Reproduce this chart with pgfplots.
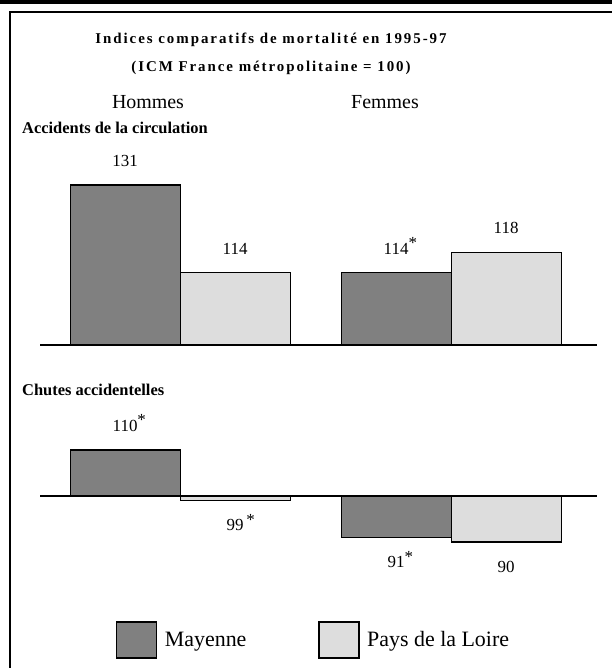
\documentclass[border=0pt]{standalone}
\usepackage{fontspec}
\setmainfont{Liberation Serif}
\usepackage{pgfplots}
\pgfplotsset{compat=1.18}
\definecolor{dark}{HTML}{808080}
\definecolor{light}{HTML}{DDDDDD}
\newcommand\st{\rlap{\smash{\raisebox{0.33em}{*}}}}
\newcommand\sst{\rlap{\smash{\,\raisebox{0.33em}{*}}}}
\begin{document}
\begin{tikzpicture}
\useasboundingbox (0bp,0bp) rectangle (612bp,668bp);
\fill[black] (0bp,664bp) rectangle (612bp,668bp);
\draw[line width=1.8bp] (10bp,0bp) -- (10bp,656bp) -- (612bp,656bp);
\node[font=\fontsize{15}{17}\selectfont\bfseries\addfontfeature{LetterSpace=13}] at (271bp,628bp) {Indices comparatifs de mortalité en 1995-97};
\node[font=\fontsize{15}{17}\selectfont\bfseries\addfontfeature{LetterSpace=13}] at (271bp,600bp) {(ICM France métropolitaine = 100)};
\node[font=\fontsize{20}{22}\selectfont] at (148bp,566bp) {Hommes};
\node[font=\fontsize{20}{22}\selectfont] at (385bp,566bp) {Femmes};
\node[font=\fontsize{16.5}{19}\selectfont\bfseries, anchor=west, inner sep=0pt] at (22bp,540bp) {Accidents de la circulation};
\node[font=\fontsize{16.5}{19}\selectfont\bfseries, anchor=west, inner sep=0pt] at (22bp,278bp) {Chutes accidentelles};

\pgfplotsset{
  mybars/.style={
    anchor=south west, x=271bp, xmin=-0.517, xmax=1.539,
    enlargelimits=false,
    axis x line=middle, axis y line=none,
    axis line style={-, line width=1.2bp},
    xtick=\empty, ytick=\empty, clip=false,
    ybar=0pt, bar width=110bp,
    point meta=explicit symbolic,
    nodes near coords,
    every node near coord/.append style={font=\fontsize{17}{19}\selectfont, inner ysep=18bp},
    y filter/.expression={y-100},
  },
  below/.style={every node near coord/.append style={yshift=-49bp}},
}

\begin{axis}[mybars, at={(40bp,323bp)}, y=5.16bp, ymin=0, ymax=31]
% Mayenne
\addplot[fill=dark, draw=black, line width=1.2bp, bar shift=-55bp] coordinates {(0,131) [131] (1,114) [114\st]};
% Pays de la Loire
\addplot[fill=light, draw=black, line width=1.2bp, bar shift=55bp] coordinates {(0,114) [114] (1,118) [118]};
\end{axis}

\begin{axis}[mybars, at={(40bp,126bp)}, y=4.6bp, ymin=-10, ymax=10,
  legend style={at={(0.491,-1.065)}, anchor=center, draw=none, legend columns=2,
    font=\fontsize{22}{24}\selectfont,
    /tikz/every even column/.append style={column sep=70bp}},
  legend image code/.code={\draw[#1, line width=1.2bp] (0bp,-18bp) rectangle (40bp,18bp); \path (46bp,0bp);},
]
\addlegendimage{fill=dark, draw=black}
\addlegendimage{fill=light, draw=black}
% Mayenne
\addplot[fill=dark, draw=black, line width=1.2bp, bar shift=-55bp] coordinates {(0,110) [110\st]};
\addplot[fill=dark, draw=black, line width=1.2bp, bar shift=-55bp, below] coordinates {(1,91) [91\st]};
% Pays de la Loire
\addplot[fill=light, draw=black, line width=1.2bp, bar shift=55bp, below] coordinates {(0,99) [99\sst] (1,90) [90]};
\legend{Mayenne, Pays de la Loire}
\end{axis}
\end{tikzpicture}
\end{document}
